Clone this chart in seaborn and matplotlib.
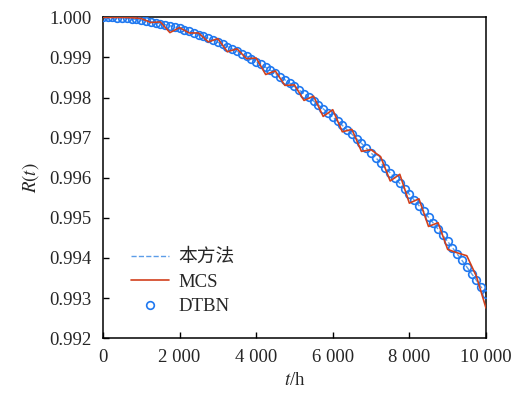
import numpy as np
import pandas as pd
import matplotlib
matplotlib.use("Agg")
import matplotlib.pyplot as plt
import seaborn as sns

# time grid (h), every 125 h
t_hours = [125 * k for k in range(81)]

# DTBN reliability
r_dtbn = [
    1.000000, 0.999999, 0.999996, 0.999990, 0.999983, 0.999973, 0.999961, 0.999947,
    0.999931, 0.999913, 0.999892, 0.999870, 0.999845, 0.999818, 0.999789, 0.999757,
    0.999724, 0.999688, 0.999651, 0.999611, 0.999569, 0.999525, 0.999478, 0.999430,
    0.999379, 0.999326, 0.999271, 0.999214, 0.999155, 0.999093, 0.999030, 0.998964,
    0.998896, 0.998826, 0.998754, 0.998679, 0.998603, 0.998524, 0.998443, 0.998360,
    0.998275, 0.998188, 0.998098, 0.998007, 0.997913, 0.997817, 0.997719, 0.997619,
    0.997516, 0.997412, 0.997305, 0.997196, 0.997085, 0.996972, 0.996857, 0.996739,
    0.996619, 0.996498, 0.996374, 0.996247, 0.996119, 0.995989, 0.995856, 0.995721,
    0.995585, 0.995445, 0.995304, 0.995161, 0.995015, 0.994868, 0.994718, 0.994566,
    0.994412, 0.994255, 0.994097, 0.993936, 0.993774, 0.993609, 0.993441, 0.993272,
    0.993101,
]

# MCS estimate (noisy), every 250 h
t_mcs = [250 * k for k in range(41)]
r_mcs = [
    1.000000, 0.999996, 0.999998, 0.999991, 0.999971, 0.999872, 0.999885, 0.999619,
    0.999744, 0.999611, 0.999609, 0.999388, 0.999469, 0.999141, 0.999215, 0.998970,
    0.998986, 0.998574, 0.998663, 0.998303, 0.998315, 0.997928, 0.998033, 0.997529,
    0.997696, 0.997145, 0.997205, 0.996657, 0.996699, 0.996524, 0.995919, 0.996086,
    0.995365, 0.995474, 0.994785, 0.994878, 0.994212, 0.994127, 0.994054, 0.993541,
    0.992751,
]

# proposed method (smooth), every 250 h
t_method = t_hours[::2]
r_method = r_dtbn[::2]

x_ticks = [0, 2000, 4000, 6000, 8000, 10000]
x_labels = ["0", "2 000", "4 000", "6 000", "8 000", "10 000"]
y_ticks = [0.992, 0.993, 0.994, 0.995, 0.996, 0.997, 0.998, 0.999, 1.000]

sns.set_style("ticks")
plt.rcParams["font.family"] = ["Liberation Serif", "Noto Sans CJK SC"]
plt.rcParams["mathtext.fontset"] = "stix"
plt.rcParams["xtick.direction"] = "in"
plt.rcParams["ytick.direction"] = "in"

fig = plt.figure(figsize=(5.17, 4.03), dpi=100)
ax = fig.add_axes([0.199, 0.161, 0.741, 0.796])

df_m = pd.DataFrame({"t": t_method, "R": r_method})
df_d = pd.DataFrame({"t": t_hours, "R": r_dtbn})
df_c = pd.DataFrame({"t": t_mcs, "R": r_mcs})

sns.lineplot(data=df_m, x="t", y="R", ax=ax, color="#5c9de8", linestyle="--",
             linewidth=1.0, label="本方法", zorder=2)
sns.lineplot(data=df_d, x="t", y="R", ax=ax, color="#1f78f0", linestyle="",
             marker="o", markersize=5.5, markerfacecolor="none",
             markeredgecolor="#1f78f0", markeredgewidth=1.2, label="DTBN", zorder=3)
sns.lineplot(data=df_c, x="t", y="R", ax=ax, color="#d2401c", linewidth=1.2,
             label="MCS", zorder=4)

ax.set_xlim(0, 10000)
ax.set_ylim(0.992, 1.000)
ax.set_xticks(x_ticks)
ax.set_xticklabels(x_labels)
ax.set_yticks(y_ticks)
ax.set_yticklabels([f"{v:.3f}" for v in y_ticks])
ax.tick_params(labelsize=13.5, length=4, width=1, color="black", pad=8)
for s in ax.spines.values():
    s.set_linewidth(1.1)
    s.set_color("black")

ax.set_xlabel("$t$/h", fontsize=13.5, labelpad=4)
ax.set_ylabel("$R(t)$", fontsize=13.5, labelpad=6)

h, l = ax.get_legend_handles_labels()
order = [l.index("本方法"), l.index("MCS"), l.index("DTBN")]
ax.legend([h[i] for i in order], [l[i] for i in order], loc="lower left",
          bbox_to_anchor=(0.04, 0.03), frameon=False, fontsize=13.5,
          handlelength=2.0, handletextpad=0.5, labelspacing=0.4, borderpad=0.2)

fig.savefig("out.png", dpi=100)
